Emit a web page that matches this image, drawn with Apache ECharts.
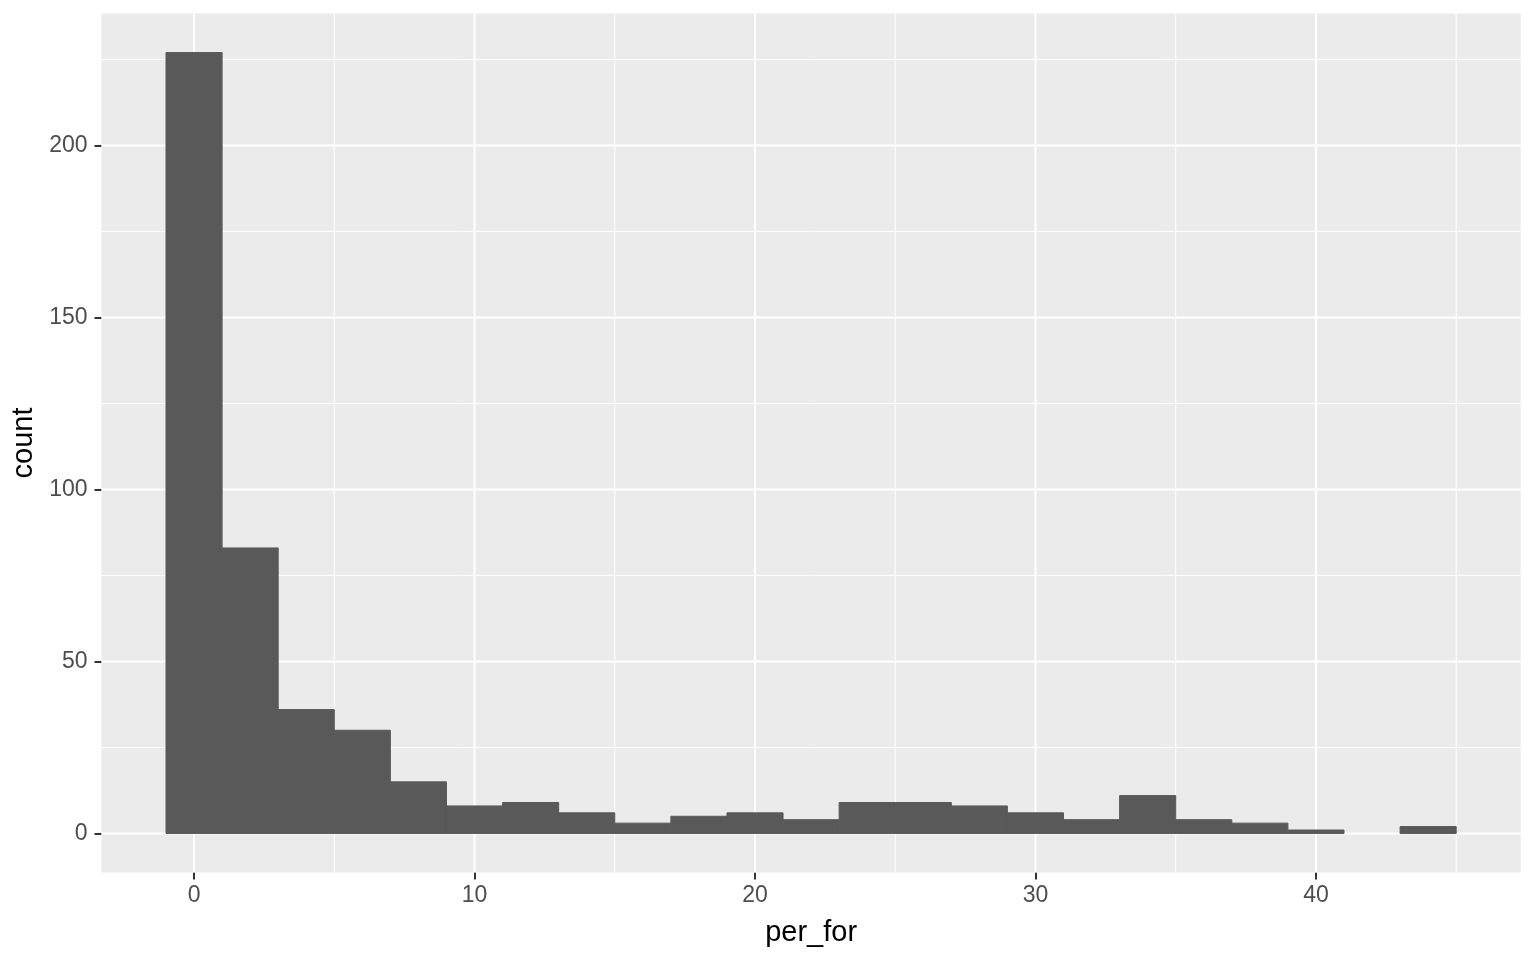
<!DOCTYPE html>
<html>
<head>
<meta charset="utf-8">
<script src="https://cdn.jsdelivr.net/npm/echarts@6/dist/echarts.min.js"></script>
<style>
html,body{margin:0;padding:0;background:#fff;}
#chart{width:1536px;height:960px;}
</style>
</head>
<body>
<div id="chart"></div>
<script>
// Histogram bins (binwidth 2, centred on even numbers)
const binCenters = [0,2,4,6,8,10,12,14,16,18,20,22,24,26,28,30,32,34,36,38,40,42,44];
const counts     = [227,83,36,30,15,8,9,6,3,5,6,4,9,9,8,6,4,11,4,3,1,0,2];
const binWidth = 2;

const xTicks = [0,10,20,30,40];
const xMinor = [5,15,25,35,45];
const yTicks = [0,50,100,150,200];
const yMinor = [25,75,125,175,225];

const xTitle = 'per_for';
const yTitle = 'count';

// ggplot-like 5% expansion
const xLo = binCenters[0] - binWidth/2, xHi = binCenters[binCenters.length-1] + binWidth/2;
const yHi = Math.max.apply(null, counts);
const xPad = (xHi - xLo) * 0.05, yPad = yHi * 0.05;

const chart = echarts.init(document.getElementById('chart'), null, {renderer:'canvas'});

function vLines(width){
  return function(params, api){
    const cs = params.coordSys;
    const x = api.coord([api.value(0), 0])[0];
    return {type:'line', shape:{x1:x, y1:cs.y, x2:x, y2:cs.y+cs.height},
            style:{stroke:'#FFFFFF', lineWidth:width}, silent:true};
  };
}
function hLines(width){
  return function(params, api){
    const cs = params.coordSys;
    const y = api.coord([0, api.value(0)])[1];
    return {type:'line', shape:{x1:cs.x, y1:y, x2:cs.x+cs.width, y2:y},
            style:{stroke:'#FFFFFF', lineWidth:width}, silent:true};
  };
}

const font = '"Liberation Sans", Arial, sans-serif';

chart.setOption({
  animation:false,
  backgroundColor:'#FFFFFF',
  grid:{left:101.5, right:15.3, top:13.5, bottom:87.5, show:true,
        backgroundColor:'#EBEBEB', borderWidth:0, containLabel:false},
  xAxis:{
    type:'value', min:xLo - xPad, max:xHi + xPad,
    axisLine:{show:false, onZero:false},
    splitLine:{show:false},
    axisTick:{show:true, customValues:xTicks, length:7, lineStyle:{color:'#333333', width:2}},
    axisLabel:{customValues:xTicks, color:'#4D4D4D', fontSize:23, fontFamily:font, margin:12},
    name:xTitle, nameLocation:'middle', nameGap:46,
    nameTextStyle:{color:'#000000', fontSize:29, fontFamily:font}
  },
  yAxis:{
    type:'value', min:-yPad, max:yHi + yPad,
    axisLine:{show:false, onZero:false},
    splitLine:{show:false},
    axisTick:{show:true, customValues:yTicks, length:7, lineStyle:{color:'#333333', width:2}},
    axisLabel:{customValues:yTicks, color:'#4D4D4D', fontSize:23, fontFamily:font, margin:14},
    name:yTitle, nameLocation:'middle', nameGap:58, nameRotate:90,
    nameTextStyle:{color:'#000000', fontSize:29, fontFamily:font}
  },
  series:[
    {type:'custom', z:1, renderItem:vLines(1), data:xMinor.map(v=>[v]), silent:true},
    {type:'custom', z:1, renderItem:hLines(1), data:yMinor.map(v=>[v]), silent:true},
    {type:'custom', z:2, renderItem:vLines(2), data:xTicks.map(v=>[v]), silent:true},
    {type:'custom', z:2, renderItem:hLines(2), data:yTicks.map(v=>[v]), silent:true},
    {
      type:'custom', z:5, silent:true,
      renderItem:function(params, api){
        const c = api.value(0), n = api.value(1);
        if (!n) return null;
        const p0 = api.coord([c - binWidth/2, 0]);
        const p1 = api.coord([c + binWidth/2, n]);
        return {type:'rect', shape:{x:p0[0], y:p1[1], width:p1[0]-p0[0], height:p0[1]-p1[1]},
                style:{fill:'#595959', stroke:'#595959', lineWidth:1}};
      },
      encode:{x:0, y:1},
      data:binCenters.map((c,i)=>[c, counts[i]])
    }
  ]
});
</script>
</body>
</html>
